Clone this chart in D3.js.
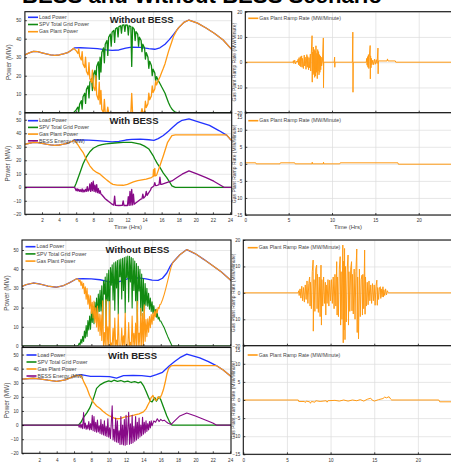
<!DOCTYPE html>
<html><head><meta charset="utf-8">
<script src="https://cdn.jsdelivr.net/npm/d3@7"></script>
<style>html,body{margin:0;padding:0;background:#fff;overflow:hidden}svg{display:block}</style>
</head><body>
<svg id="chart" width="451" height="465"></svg>
<script>
// ---------------- DATA ----------------
const hourTicksLeft = [2,4,6,8,10,12,14,16,18,20,22,24];
const hourTicksRight = [0,5,10,15,20];
const gridHours = [5,10,15,20];
const powerTicksTop = [0,10,20,30,40,50];
const powerTicksBess = [-20,-10,0,10,20,30,40,50];
const rampTicksWide = [-20,-10,0,10,20];
const rampTicksNarrow = [-15,-10,-5,0,5,10,15];
const legendPower = ["Load Power","SPV Total Grid Power","Gas Plant Power"];
const legendBess = ["Load Power","SPV Total Grid Power","Gas Plant Power","BESS Energy (MW)"];
const legendRamp = ["Gas Plant Ramp Rate (MW/Minute)"];

// Panel 1: without BESS (upper scenario)
const load1 = [[0,31.3],[0.5,32.3],[1,33.2],[1.5,33],[2,32.4],[2.5,31.8],[3,31.3],[3.5,31],[4,31.2],[4.5,31.8],[5,32.5],[5.4,33.6],[5.8,35],[6.5,35.1],[7.5,34.9],[8.5,34.6],[9.5,34],[10.2,33.7],[11,33.9],[11.8,34.9],[12.5,35.5],[13.5,35.3],[14.5,34.6],[15.2,34.3],[15.8,35.1],[16.4,37],[16.9,39.5],[17.4,42.3],[18,46],[18.6,48.8],[19.2,50.1],[20.2,48.4],[21.2,45.8],[22.2,42.8],[23.2,39.3],[24,35.2],[24.2,34.3]];
const spv1 = [[0,0],[5.7,0],[6.0,1.5],[6.2,3],[6.3,0.5],[6.4,4.5],[6.6,6.5],[6.7,2],[6.8,8.6],[7.0,10.5],[7.1,5],[7.2,12.5],[7.4,14.5],[7.5,8],[7.6,16.5],[7.8,18.5],[7.9,12],[8.0,20.5],[8.2,22.8],[8.3,15],[8.4,25],[8.6,27.5],[8.7,18],[8.8,30],[8.9,22],[9.0,32.5],[9.2,35],[9.3,27],[9.4,37],[9.6,39],[9.7,31],[9.8,40.8],[10.0,42.5],[10.1,36],[10.2,43.5],[10.4,44.5],[10.5,38],[10.6,45.3],[10.8,46],[10.9,41],[11.0,46.5],[11.2,47],[11.3,43],[11.4,47.3],[11.6,47.5],[11.7,44],[11.8,47.4],[12.0,47.3],[12.1,42],[12.2,47],[12.4,46.5],[12.5,25],[12.6,46.2],[12.8,45],[12.9,39],[13.0,43.8],[13.2,42.5],[13.3,36],[13.4,40.8],[13.6,39],[13.7,33],[13.8,37],[14.0,35],[14.1,29],[14.2,32.5],[14.4,30],[14.5,24],[14.6,27.8],[14.8,25.5],[14.9,20],[15.0,23.5],[15.2,21.5],[15.3,17],[15.4,19.5],[15.6,17.5],[15.8,15.8],[16.0,14],[16.2,12.3],[16.4,10.5],[16.6,8],[16.8,5.5],[17.0,3.5],[17.2,2],[17.4,1],[17.6,0.3],[17.8,0],[24.2,0]];
const gas1 = [[0,31.3],[0.5,32.3],[1,33.2],[1.5,33],[2,32.4],[2.5,31.8],[3,31.3],[3.5,31],[4,31.2],[4.5,31.8],[5,32.5],[5.4,33.6],[5.7,34.8],[6.0,33.5],[6.2,32],[6.3,34.5],[6.4,30.5],[6.6,28.5],[6.7,33],[6.8,26.4],[7.0,24.4],[7.1,30],[7.2,22.4],[7.4,20.4],[7.5,27],[7.6,18.3],[7.8,16.3],[7.9,23],[8.0,14.2],[8.2,12],[8.3,20],[8.4,9.7],[8.6,7],[8.7,16.5],[8.8,4.6],[8.9,12],[9.0,1.8],[9.2,0],[9.3,7.2],[9.4,0],[9.6,0],[9.7,3],[9.8,0],[12.4,0],[12.5,10.5],[12.6,0],[13.6,0],[13.7,2.2],[13.8,0],[14.0,0.3],[14.1,6.2],[14.2,2.8],[14.4,4.9],[14.5,10.6],[14.6,7],[14.8,9.1],[14.9,14.5],[15.0,11],[15.2,12.8],[15.3,17.2],[15.4,15],[15.6,17.4],[15.8,19.3],[16.0,21.7],[16.2,24],[16.4,26.5],[16.6,29.8],[16.8,33],[17.0,35.8],[17.2,38.5],[17.4,41.3],[17.6,43],[17.8,44.8],[18,46],[18.6,48.8],[19.2,50.1],[20.2,48.4],[21.2,45.8],[22.2,42.8],[23.2,39.3],[24,35.2],[24.2,34.3]];

// Panel 2: with BESS (upper scenario)
const load2 = [[0,31.8],[0.5,32.6],[1,33.3],[1.5,33.1],[2,32.5],[2.5,31.9],[3,31.4],[3.5,31.1],[4,31.3],[4.5,31.9],[5,32.6],[5.4,33.7],[5.8,35],[6.5,35.1],[7.5,34.9],[8.5,34.6],[9.5,34],[10.2,33.6],[11,34],[11.8,35],[12.5,35.5],[13.5,35.7],[14.5,35.2],[15.1,34.8],[15.6,36],[16.2,38.3],[16.8,41.5],[17.3,44.5],[17.8,47.3],[18.4,49.6],[19.2,50.7],[20.2,48.7],[21.6,45.8],[22.7,42],[23.6,38.6],[24,35.8],[24.2,34.6]];
const spv2 = [[0,0],[5.8,0],[6.0,3],[6.4,10],[6.8,17.2],[7.2,22.5],[7.6,26.3],[8.0,28.9],[8.5,30.6],[9.0,31.6],[9.5,32.2],[10.5,32.8],[11.5,33.3],[12.5,33.2],[13.5,32],[14.0,30.5],[14.5,28.4],[15.0,23.5],[15.2,20.9],[15.5,17.5],[15.8,14.7],[16.2,10.5],[16.6,7.2],[17.0,3.2],[17.2,1],[17.6,0],[24.2,0]];
const gas2 = [[0,31.8],[0.5,32.6],[1,33.3],[1.5,33.1],[2,32.5],[2.5,31.9],[3,31.4],[3.5,31.1],[4,31.3],[4.5,31.9],[5,32.6],[5.4,33.7],[5.8,34.8],[6.2,31.5],[6.5,28.5],[6.8,25.9],[7.2,20.5],[7.6,15.9],[8.0,12.8],[8.4,11],[8.8,9.7],[9.2,7.5],[9.6,5.3],[10.0,3.3],[10.3,2.2],[10.8,1.6],[11.5,1.5],[12.0,2.2],[12.7,4],[13.2,5],[14.2,6],[14.8,7.2],[15.0,8],[15.05,13],[15.1,8.3],[15.2,14],[15.25,8.5],[15.4,8.8],[15.8,15.9],[16.2,23.4],[16.7,33.3],[17.2,38.3],[17.6,38.8],[23.6,38.8],[24,35.8],[24.2,34.6]];
const bess2 = [[0,0],[5.8,0],[5.9,-1],[6.0,-2.5],[6.1,-1],[6.2,-2.8],[6.3,-1.5],[6.4,-3],[6.5,-1.8],[6.6,-3.2],[6.7,-1.2],[6.8,-3.5],[6.9,-2],[7.0,-3.3],[7.1,-1.5],[7.2,-3],[7.3,0.5],[7.4,-2.8],[7.5,-2],[7.6,2.5],[7.7,-3],[7.8,3.5],[7.9,-2.5],[8.0,4.5],[8.1,-3],[8.2,1.5],[8.3,-3.5],[8.4,2],[8.5,-4],[8.6,-1],[8.7,-4.5],[8.8,-2.5],[8.9,-5],[9.0,-5.5],[9.2,-7],[9.4,-8.5],[9.6,-9.5],[9.8,-10.5],[10.0,-11.5],[10.2,-12.5],[10.4,-13.2],[10.5,-6.5],[10.6,-13.4],[11.0,-13.5],[11.4,-13.4],[11.5,-10],[11.6,-13.5],[12.0,-13.5],[12.1,-7],[12.2,-13.4],[12.3,-3],[12.4,-13.2],[12.5,-1.5],[12.6,-13],[12.7,-5],[12.8,-12.5],[13.0,-11.5],[13.2,-10.5],[13.5,-9],[13.7,-8.5],[13.8,-5],[13.9,-8],[14.1,-6.5],[14.2,-3],[14.3,-6],[14.5,-4],[14.7,-2],[14.8,-0.3],[15.0,0.5],[15.1,1],[15.2,3.5],[15.3,1.2],[15.5,1.5],[15.7,2],[15.8,7.5],[15.9,2.2],[16.0,2.2],[16.5,3.2],[17.2,4.7],[17.8,7.2],[18.4,9.7],[19.2,12.2],[20.2,9.7],[21.2,7.2],[22.1,4.5],[22.9,1.5],[23.3,0],[24.2,0]];

// Panel 3 / 4: ramp rates (upper scenario)
const ramp3 = [[0,0],[5.5,0],[5.55,0.6],[5.6,-0.5],[5.7,0.8],[5.8,-0.7],[5.9,0.4],[6.0,0],[6.1,1.2],[6.15,-1],[6.2,1.8],[6.3,-1.5],[6.35,2.2],[6.4,-1.8],[6.5,2.5],[6.55,-2],[6.6,1.5],[6.7,-2.5],[6.8,2.8],[6.85,-1.5],[6.9,2],[7.0,-2.8],[7.1,3],[7.15,-2],[7.2,2.2],[7.3,-3],[7.35,1.8],[7.4,-2.2],[7.5,3.2],[7.55,-3.5],[7.6,2.5],[7.7,10.5],[7.72,-7.9],[7.75,4],[7.8,-5],[7.85,6],[7.9,-4.5],[7.95,5],[8.0,-6],[8.05,4.5],[8.1,-5.5],[8.15,6.5],[8.2,-4],[8.25,3.5],[8.3,-6.5],[8.35,5],[8.4,-3.5],[8.45,4.2],[8.5,-5],[8.55,3],[8.6,-4],[8.65,2.5],[8.7,-3],[8.75,2],[8.8,-1.5],[8.9,0.5],[9.0,9.6],[9.02,-10.1],[9.05,0],[10.25,0],[10.3,2],[10.32,-2],[10.35,0],[12.35,0],[12.4,11.9],[12.42,-11.9],[12.45,0],[13.95,0],[14.0,1.5],[14.05,-1.2],[14.1,2.2],[14.15,-2],[14.2,3],[14.25,-2.5],[14.3,2],[14.4,6.6],[14.42,-6.6],[14.45,2.5],[14.5,-2.2],[14.55,1.5],[14.6,-1],[14.7,0.8],[14.8,-1],[14.9,1.2],[15.0,-0.8],[15.1,1],[15.2,-0.5],[15.3,5.6],[15.32,-4.6],[15.35,0.5],[16.35,0.5],[16.4,1.3],[16.45,0.5],[17.3,0.5],[17.35,0],[24,0]];
const ramp4 = [[0,0.3],[1.2,0.3],[1.25,0],[4.0,0],[4.05,0.3],[5.7,0.3],[5.75,0],[7.7,0],[7.72,0.5],[7.75,0],[9.0,0],[9.02,0.5],[9.05,0],[10.9,0],[10.95,0.3],[17.6,0.3],[17.65,-0.1],[24,-0.1]];

// Panel 5: without BESS (lower scenario)
const load5 = [[0,31],[0.5,32],[1.3,32.8],[2,32.3],[3,31.2],[4,30.6],[4.8,31.5],[5.5,33],[6.3,35],[7,35.1],[8,35],[9,34.5],[9.7,33.8],[10.3,33.2],[11,33.3],[11.6,34],[12.3,35.2],[13,35.5],[13.6,35.4],[14.3,35],[15,34.3],[15.7,34.2],[16.2,35.3],[16.7,38],[17.1,41.6],[17.4,43.5],[17.6,44.5],[18.2,47.5],[19,50.2],[20,48],[21,45],[22,41.8],[23,38.5],[24,34.5],[24.1,34]];
const spv5 = [[0,0],[6.4,0],[6.5,0.5],[6.6,1.5],[6.7,0.5],[6.8,3.5],[6.9,1.5],[7.0,5],[7.1,2.4],[7.2,7.8],[7.3,4.2],[7.4,10.6],[7.5,5],[7.6,13.2],[7.7,8.4],[7.8,15.6],[7.9,8.8],[8.0,18],[8.1,12.2],[8.2,20.4],[8.3,11.6],[8.4,22.8],[8.5,15],[8.6,25],[8.7,14],[8.8,27],[8.9,18],[9.0,29],[9.1,18.2],[9.2,31.4],[9.3,10.6],[9.4,33.8],[9.5,27],[9.6,35.9],[9.7,9.8],[9.8,37.7],[9.9,23.6],[10.0,39.5],[10.1,10.2],[10.2,40.9],[10.3,31.6],[10.4,42.3],[10.5,24],[10.6,43.3],[10.7,18.6],[10.8,43.9],[10.9,30.2],[11.0,44.5],[11.1,16.7],[11.2,44.9],[11.3,36.1],[11.4,45.3],[11.5,24.5],[11.6,45.7],[11.7,28.9],[11.8,46.1],[11.9,17.3],[12.0,46.5],[12.1,35.7],[12.2,46.8],[12.3,23],[12.4,46.7],[12.5,33.4],[12.6,46.1],[12.7,19.8],[12.8,45.5],[12.9,28.9],[13.0,44.3],[13.1,23.6],[13.2,43],[13.3,12.2],[13.4,41.5],[13.5,28.7],[13.6,40],[13.7,15.7],[13.8,37.5],[13.9,18.2],[14.0,35],[14.1,13.7],[14.2,32.5],[14.3,21.2],[14.4,30],[14.5,20.7],[14.6,27.5],[14.7,19.2],[14.8,25],[14.9,18],[15.0,23],[15.1,17],[15.2,21],[15.3,16],[15.4,19],[15.5,15],[15.6,17],[15.7,14],[15.8,15],[15.9,13],[16.0,13],[16.2,11.2],[16.4,9.5],[16.6,7.2],[16.8,5],[17.0,3],[17.2,1],[17.3,0],[24.1,0]];
const gas5 = [[0,31],[0.5,32],[1.3,32.8],[2,32.3],[3,31.2],[4,30.6],[4.8,31.5],[5.5,33],[6.3,35],[6.4,35],[6.5,34.5],[6.6,33.5],[6.7,34.5],[6.8,31.5],[6.9,33.5],[7.0,30],[7.1,32.6],[7.2,27.2],[7.3,30.8],[7.4,24.4],[7.5,30],[7.6,21.8],[7.7,26.6],[7.8,19.4],[7.9,26.2],[8.0,17],[8.1,22.8],[8.2,14.6],[8.3,23.4],[8.4,12.2],[8.5,19.9],[8.6,9.9],[8.7,20.8],[8.8,7.7],[8.9,16.6],[9.0,5.5],[9.1,16.2],[9.2,2.9],[9.3,23.6],[9.4,0.3],[9.5,7],[9.6,0],[9.7,24],[9.8,0],[9.9,10],[10.0,0],[10.1,23.2],[10.2,0],[10.3,1.6],[10.4,0],[10.5,9.2],[10.6,0],[10.7,14.6],[10.8,0],[10.9,3.1],[11.0,0],[11.1,16.7],[11.2,0],[11.3,0],[11.4,0],[11.5,9.3],[11.6,0],[11.7,5.3],[11.8,0],[11.9,17.2],[12.0,0],[12.1,0],[12.2,0],[12.3,12.2],[12.4,0],[12.5,1.9],[12.6,0],[12.7,15.6],[12.8,0],[12.9,6.6],[13.0,0],[13.1,11.9],[13.2,0],[13.3,23.3],[13.4,0],[13.5,6.7],[13.6,0],[13.7,19.6],[13.8,0],[13.9,17],[14.0,0.1],[14.1,21.4],[14.2,2.5],[14.3,13.8],[14.4,4.9],[14.5,14.1],[14.6,7.2],[14.7,15.4],[14.8,9.5],[14.9,16.4],[15.0,11.3],[15.1,17.3],[15.2,13.3],[15.3,18.3],[15.4,15.2],[15.5,19.2],[15.6,17.2],[15.7,20.2],[15.8,19.4],[15.9,21.6],[16.0,21.8],[16.2,24.1],[16.4,26.9],[16.6,30.3],[16.8,33.9],[17.0,37.7],[17.2,41.2],[17.4,43.5],[17.6,44.5],[18.2,47.5],[19,50.2],[20,48],[21,45],[22,41.8],[23,38.5],[24,34.5],[24.1,34]];

// Panel 6: with BESS (lower scenario)
const load6 = [[0,32.6],[1.3,33.2],[2,32.8],[3,31.8],[4,31],[5,32],[6.1,34.9],[6.8,35.7],[7.9,34.6],[9,34.5],[10.1,34.3],[10.9,33.3],[11.7,35],[12.8,35.2],[13.8,35],[14.8,34.3],[15.5,35.7],[16.2,37.4],[17,42.1],[17.6,45],[18.2,47.8],[19,50.3],[20.5,47.6],[21.5,45],[22.4,42.2],[23.2,39],[24,35],[24.1,34.6]];
const spv6 = [[0,0],[6.5,0],[6.8,2],[7.1,5.5],[7.5,8.8],[7.8,12],[8.0,15],[8.3,20],[8.6,26],[9.0,28.5],[9.5,30.3],[10.0,31.4],[10.3,30.8],[10.6,31.8],[11.0,31],[11.4,31.6],[11.8,30.6],[12.2,31.2],[12.6,30.2],[13.0,30.8],[13.4,30],[13.7,30.6],[14.0,28],[14.3,24],[14.6,19.5],[14.8,17],[15.0,16.5],[15.3,19.5],[15.5,17],[15.8,20],[16.0,18],[16.3,13],[16.7,6.4],[17.0,2.5],[17.3,0],[24.1,0]];
const gas6 = [[0,32.6],[1.3,33.2],[2,32.8],[3,31.8],[4,31],[5,32],[6.1,34.9],[6.8,35.3],[7.1,31],[7.5,26],[7.8,21],[8.2,16.4],[8.6,13.5],[9,11.7],[9.3,10],[9.7,8],[10.0,6.8],[10.4,5.7],[10.7,4.8],[11,4.5],[11.4,4.8],[11.8,5.7],[12.3,6.2],[12.9,7],[13.5,8],[14,9.4],[14.3,11.5],[14.5,14],[14.7,16.4],[14.9,19.5],[15.1,21],[15.3,18],[15.5,17.6],[15.7,20],[15.9,19],[16.1,21.5],[16.3,25],[16.5,30],[16.7,36],[16.9,40],[17.2,42],[17.6,42.3],[22.4,42.2],[23.2,39],[24,35],[24.1,34.6]];
const bess6 = [[0,0],[6.5,0],[6.6,-1.5],[6.7,1],[6.8,-2],[6.9,0.5],[7.0,-2.5],[7.1,8.8],[7.2,-2.2],[7.3,1.5],[7.4,-3],[7.5,0],[7.6,-2.8],[7.7,2.5],[7.8,-3.5],[7.9,1],[8.0,-3.2],[8.1,7],[8.2,-4],[8.3,6],[8.4,-4.5],[8.5,2],[8.6,-5],[8.7,3.5],[8.8,-4.8],[8.9,-0.5],[9.0,-6],[9.1,4],[9.2,-6.5],[9.3,0.5],[9.4,-7],[9.5,3],[9.6,-7.5],[9.7,-1],[9.8,-8],[9.9,4.5],[10.0,-8.5],[10.1,-2],[10.2,-9.5],[10.3,2],[10.4,13.6],[10.5,-10.5],[10.6,-3],[10.7,-11.5],[10.8,5],[10.9,-12],[11.0,3],[11.1,-12.5],[11.2,-4],[11.3,-13.8],[11.4,6],[11.5,-13.5],[11.6,0],[11.7,-14],[11.8,4],[11.9,-14.2],[12.0,7],[12.1,-13.8],[12.2,-2],[12.3,9],[12.4,-13.5],[12.5,1],[12.6,-13],[12.7,7],[12.8,-12.5],[12.9,-1],[13.0,-11.5],[13.1,6],[13.2,-10.5],[13.3,2],[13.4,-9.5],[13.5,5],[13.6,-8.5],[13.7,0],[13.8,-7.5],[13.9,5.5],[14.0,-6.5],[14.1,2],[14.2,-5.5],[14.3,3],[14.4,-4.5],[14.5,1],[14.6,-3.5],[14.7,2.5],[14.8,-2],[14.9,3],[15.0,-0.5],[15.2,3],[15.4,2],[15.6,4.5],[15.8,2.5],[16.0,4],[16.2,3],[16.4,3.5],[16.6,2.5],[16.8,1.5],[17.0,1],[17.2,0.5],[17.6,3],[18.2,6.5],[19.0,8.6],[20.0,6.5],[21.0,4],[22.0,1.5],[22.4,0],[24.1,0]];

// Panel 7 / 8: ramp rates (lower scenario)
const ramp7 = [[0,0],[6.3,0],[6.35,0.8],[6.4,-1],[6.5,1.5],[6.6,-2],[6.7,2.5],[6.8,-3],[6.9,2],[7.0,-3.5],[7.1,3],[7.2,-2.5],[7.3,4.5],[7.4,-4],[7.5,3.5],[7.6,6],[7.65,-5],[7.7,4],[7.8,-6],[7.9,8],[8.0,12.4],[8.02,-14.5],[8.1,5],[8.2,-7],[8.3,9],[8.4,10.5],[8.45,-6],[8.5,7],[8.6,-7.4],[8.7,6],[8.8,-9],[8.9,10.5],[8.95,-12.2],[9.0,5],[9.1,-5],[9.2,6],[9.3,-4],[9.4,4],[9.45,-8.4],[9.5,3],[9.6,-4],[9.7,5],[9.8,-5],[9.9,4.8],[10.0,-3],[10.1,5],[10.2,-4],[10.3,6],[10.4,-6],[10.5,7],[10.6,-5],[10.7,11.8],[10.75,-8.4],[10.8,6],[10.9,-9],[11.0,9],[11.1,13.7],[11.15,-12.2],[11.2,8],[11.3,-10],[11.4,18.1],[11.45,-18.9],[11.5,12],[11.55,-14],[11.6,16.8],[11.65,-17.7],[11.7,10],[11.8,-11],[11.9,9],[12.0,14.3],[12.05,-12.2],[12.1,8],[12.2,-7],[12.3,9],[12.4,11.8],[12.45,-6.8],[12.5,7],[12.6,-8],[12.7,9],[12.8,-10],[12.9,8],[13.0,16.6],[13.05,-15],[13.1,6],[13.2,-17.4],[13.3,9],[13.4,-9],[13.5,5],[13.6,6.7],[13.65,-8.4],[13.7,7],[13.8,-6],[13.9,16.2],[13.95,-8.1],[14.0,6],[14.1,-5],[14.2,4],[14.3,-4.5],[14.4,4.5],[14.5,-3],[14.6,3],[14.7,-4],[14.8,3.5],[14.9,-3],[15.0,3],[15.1,-4.7],[15.2,2.5],[15.3,4.8],[15.35,-4.7],[15.4,2],[15.5,-2.5],[15.6,2],[15.7,2.3],[15.75,-2.1],[15.8,1.5],[15.9,-1.5],[16.0,2.3],[16.05,-1.6],[16.1,1.2],[16.2,-1],[16.3,1.5],[16.4,-0.8],[16.5,0.8],[16.6,0],[24,0]];
const ramp8 = [[0,0],[6.3,0],[6.35,-0.4],[7,-0.4],[7.1,-0.7],[7.2,-0.3],[7.6,-0.5],[7.7,-0.9],[7.8,-0.4],[8.2,-0.6],[8.3,-0.2],[8.8,-0.4],[9.5,-0.2],[9.6,-0.6],[9.7,-0.2],[10.5,-0.1],[11,-0.3],[11.5,0],[12,-0.3],[12.5,0],[13,-0.2],[13.4,0.1],[13.8,-0.3],[14.2,0.2],[14.6,0.5],[14.7,0.1],[15,-0.3],[15.5,0.1],[16,0.4],[16.2,0.8],[16.4,0.6],[16.7,0.9],[16.9,0.2],[17,0],[22.4,0],[22.5,-0.5],[24,-0.5]];

// ---------------- DRAWING ----------------
const C = {load:"#2233ff", spv:"#118a11", gas:"#ff9a14", bess:"#870a87"};
const FONT = "'Liberation Sans', Arial, sans-serif";
const svg = d3.select("#chart");
const defs = svg.append("defs");

svg.append("text").attr("x",22).attr("y",3)
  .attr("font-family",FONT).attr("font-weight","bold").attr("font-size",22)
  .attr("textLength",360).attr("lengthAdjust","spacingAndGlyphs")
  .attr("fill","#000").text("BESS and Without BESS Scenario");

function panel(p, idx){
  const x = d3.scaleLinear().domain(p.xd).range([p.x0,p.x1]);
  const y = d3.scaleLinear().domain(p.yd).range([p.y1,p.y0]);
  const w = p.x1-p.x0, h = p.y1-p.y0;
  const g = svg.append("g");
  g.append("rect").attr("x",p.x0).attr("y",p.y0).attr("width",w).attr("height",h).attr("fill","#fff");
  const gridStyle = a => { a.select(".domain").remove(); a.selectAll("line").attr("stroke","#dcdcdc").attr("stroke-width",0.7); };
  g.append("g").attr("transform",`translate(0,${p.y1})`)
    .call(d3.axisBottom(x).tickValues(gridHours).tickSize(-h).tickFormat("")).call(gridStyle);
  g.append("g").attr("transform",`translate(${p.x0},0)`)
    .call(d3.axisLeft(y).tickValues(p.yTicks).tickSize(-w).tickFormat("")).call(gridStyle);
  const cid = "clip"+idx;
  defs.append("clipPath").attr("id",cid).append("rect")
    .attr("x",p.x0).attr("y",p.y0).attr("width",w).attr("height",h);
  const line = d3.line().x(d=>x(d[0])).y(d=>y(d[1]));
  p.series.forEach(s=>{
    g.append("path").attr("clip-path",`url(#${cid})`).attr("d",line(s.data))
      .attr("fill","none").attr("stroke",s.color).attr("stroke-width",s.w||1.3)
      .attr("stroke-linejoin","round");
  });
  const tickStyle = a => { a.select(".domain").remove(); a.selectAll("line").attr("stroke","#000").attr("stroke-width",0.7); };
  g.append("g").attr("transform",`translate(0,${p.y1})`)
    .call(d3.axisBottom(x).tickValues(p.xTickMarks).tickSize(-2).tickFormat("")).call(tickStyle);
  g.append("g").attr("transform",`translate(${p.x0},0)`)
    .call(d3.axisLeft(y).tickValues(p.yTicks).tickSize(-2).tickFormat("")).call(tickStyle);
  g.append("rect").attr("x",p.x0).attr("y",p.y0).attr("width",w).attr("height",h)
    .attr("fill","none").attr("stroke","#111").attr("stroke-width",1.1);
  const yTop = d3.max(p.yTicks);
  g.append("g").attr("transform",`translate(${p.x0},0)`)
    .call(d3.axisLeft(y).tickValues(p.yTicks).tickSize(0).tickPadding(p.yPad))
    .call(a=>{ a.select(".domain").remove();
      a.selectAll("text").attr("font-size",4.6).attr("fill","#333").attr("font-family",FONT)
        .attr("y", d => (p.nudgeTop && d === yTop) ? 4 : 0); });
  if (p.xLabels){
    g.append("g").attr("transform",`translate(0,${p.y1})`)
      .call(d3.axisBottom(x).tickValues(p.xLabels).tickSize(0).tickPadding(p.xPad))
      .call(a=>{ a.select(".domain").remove();
        a.selectAll("text").attr("font-size",4.6).attr("fill","#333").attr("font-family",FONT); });
  }
  p.legend.forEach((lab,i)=>{
    const ly = p.legY + i*p.legDy;
    g.append("line").attr("x1",p.legX).attr("x2",p.legX+10).attr("y1",ly).attr("y2",ly)
      .attr("stroke",p.series[i].color).attr("stroke-width",1.6);
    g.append("text").attr("x",p.legX+11).attr("y",ly).attr("dy","0.33em")
      .attr("font-size",5.2).attr("fill","#444").attr("font-family",FONT).text(lab);
  });
  if (p.title){
    g.append("text").attr("x",p.title[1]).attr("y",p.title[2]).attr("text-anchor","middle")
      .attr("font-size",9.5).attr("font-weight","bold").attr("fill","#222").attr("font-family",FONT)
      .text(p.title[0]);
  }
  if (p.yLabel){
    g.append("text").attr("transform",`translate(${p.yLabel[1]},${(p.y0+p.y1)/2}) rotate(-90)`)
      .attr("text-anchor","middle").attr("font-size",p.yLabel[2]).attr("fill","#444")
      .attr("font-family",FONT).text(p.yLabel[0]);
  }
}

const leftTop = {xd:[0,24.2], x0:24.9, x1:231.7, xTickMarks:hourTicksLeft, yPad:3.5};
const rightTop = {xd:[0,24], x0:245.3, x1:453.4, xTickMarks:hourTicksRight, yPad:3};
const leftBot = {xd:[0,24.1], x0:22, x1:231, xTickMarks:hourTicksLeft, yPad:3.5};
const rightBot = {xd:[0,24], x0:243.3, x1:452.8, xTickMarks:hourTicksRight, yPad:3};

const panels = [
  Object.assign({}, leftTop, {y0:11.7, y1:112.7, yd:[0,54.6], yTicks:powerTicksTop,
    series:[{data:load1,color:C.load},{data:spv1,color:C.spv},{data:gas1,color:C.gas}],
    legend:legendPower, legX:28, legY:17.3, legDy:7.2, title:["Without BESS",141.7,23],
    yLabel:["Power (MW)",11,6.4]}),
  Object.assign({}, leftTop, {y0:113, y1:214.3, yd:[-20,55], yTicks:powerTicksBess,
    series:[{data:load2,color:C.load},{data:spv2,color:C.spv},{data:gas2,color:C.gas},{data:bess2,color:C.bess}],
    legend:legendBess, legX:28, legY:120.7, legDy:6.7, title:["With BESS",134,123.5],
    yLabel:["Power (MW)",10,6.4], xLabels:hourTicksLeft, xPad:4.5}),
  Object.assign({}, rightTop, {y0:11.7, y1:112.7, yd:[-20,20], yTicks:rampTicksWide,
    series:[{data:ramp3,color:C.gas,w:1}], legend:legendRamp, legX:248.3, legY:18.3, legDy:7,
    yLabel:["Gas Plant Ramp Rate (MW/Minute)",235.5,5]}),
  Object.assign({}, rightTop, {y0:112.7, y1:215, yd:[-15,15], yTicks:rampTicksNarrow, nudgeTop:true,
    series:[{data:ramp4,color:C.gas,w:1}], legend:legendRamp, legX:248.3, legY:120.7, legDy:7,
    yLabel:["Gas Plant Ramp Rate (MW/Minute)",235.5,5], xLabels:hourTicksRight, xPad:4.2}),
  Object.assign({}, leftBot, {y0:240, y1:346, yd:[0,55.2], yTicks:powerTicksTop,
    series:[{data:load5,color:C.load},{data:spv5,color:C.spv,w:1.1},{data:gas5,color:C.gas,w:1.1}],
    legend:legendPower, legX:25.5, legY:246.7, legDy:7.2, title:["Without BESS",137.5,252.5],
    yLabel:["Power (MW)",8.5,6.4]}),
  Object.assign({}, leftBot, {y0:347.5, y1:453.3, yd:[-20,55], yTicks:powerTicksBess,
    series:[{data:load6,color:C.load},{data:spv6,color:C.spv},{data:gas6,color:C.gas},{data:bess6,color:C.bess,w:1.1}],
    legend:legendBess, legX:26.5, legY:355, legDy:7, title:["With BESS",132.5,358.5],
    yLabel:["Power (MW)",8.5,6.4], xLabels:hourTicksLeft, xPad:5}),
  Object.assign({}, rightBot, {y0:240, y1:345.7, yd:[-20,20], yTicks:rampTicksWide,
    series:[{data:ramp7,color:C.gas,w:1}], legend:legendRamp, legX:247.7, legY:247.7, legDy:7,
    yLabel:["Gas Plant Ramp Rate (MW/Minute)",234.5,5]}),
  Object.assign({}, rightBot, {y0:345.7, y1:454.3, yd:[-15,15], yTicks:rampTicksNarrow, nudgeTop:true,
    series:[{data:ramp8,color:C.gas,w:1}], legend:legendRamp, legX:247.7, legY:355, legDy:7,
    yLabel:["Gas Plant Ramp Rate (MW/Minute)",234.5,5], xLabels:hourTicksRight, xPad:4.2})
];
panels.forEach((p,i)=>panel(p,i));

[[128,228.5],[348,228.5],[128,469.5],[350,469.5]].forEach(([xx,yy])=>{
  svg.append("text").attr("x",xx).attr("y",yy).attr("text-anchor","middle")
    .attr("font-size",6).attr("fill","#444").attr("font-family",FONT).text("Time (Hrs)");
});
</script>
</body></html>
